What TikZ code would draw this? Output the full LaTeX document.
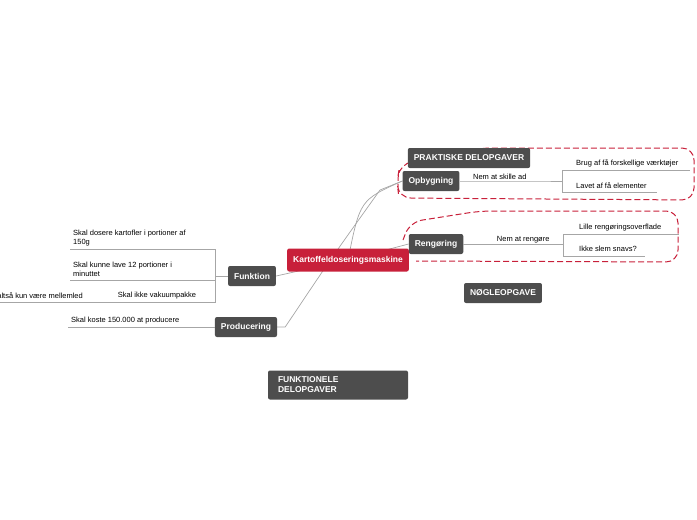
\documentclass[tikz,border=0pt]{standalone}
\usepackage{fontspec}
\setmainfont{Liberation Sans}
\definecolor{boxcolor}{HTML}{4d4d4d}
\definecolor{rootcolor}{HTML}{c8203a}
\definecolor{linecolor}{HTML}{a6a6a6}
\usetikzlibrary{positioning, backgrounds}

\begin{document}
\begin{tikzpicture}[x=1pt, y=-1pt,
    topic/.style={fill=boxcolor, text=white, font=\bfseries\fontsize{8.5}{10}\selectfont, rounded corners=2pt, inner xsep=6pt, minimum height=20pt},
    root/.style={topic, fill=rootcolor, minimum height=23pt},
    leaf/.style={font=\fontsize{7.5}{9}\selectfont, inner sep=1pt},
    branch/.style={draw=linecolor, line width=0.7pt},
    boundary/.style={draw=rootcolor, dash pattern=on 6pt off 3pt, line width=1pt, rounded corners=12pt}]
    \useasboundingbox (0, 0) rectangle (697, 520);
    \clip (0, 0) rectangle (697, 520);

    % boundaries
    \draw [boundary] (397, 182) -- (400, 164) -- (480, 148) -- (694, 148) -- (694, 200) -- (399, 198) -- cycle;
    \draw [boundary] (403, 240) -- (410, 222) -- (480, 211) -- (678, 211) -- (678, 262) -- (416, 261);

    % main topics
    \node [root] (kart) at (348, 260) {Kartoffeldoseringsmaskine};
    \node [topic] (opb) at (431, 181) {Opbygning};
    \node [topic] (prak) at (469, 158) {PRAKTISKE DELOPGAVER};
    \node [topic] (reng) at (436, 244) {Rengøring};
    \node [topic] (noegle) at (503, 293) {NØGLEOPGAVE};
    \node [topic] (funk) at (252, 276) {Funktion};
    \node [topic] (prod) at (246, 327) {Producering};
    \node [topic, align=left, minimum width=140pt, minimum height=29pt, text width=120pt] (funkdel) at (338, 385) {FUNKTIONELE\\DELOPGAVER};

    \begin{scope}[on background layer]
        \draw [branch] (kart.center) .. controls (360, 200) .. (opb.west);
        \draw [branch] (prod.east) -- ++(8, 0) .. controls (330, 260) .. (380, 190) -- (opb.west);
        \draw [branch] (kart.center) -- (reng.west);
        \draw [branch] (funk.east) -- (kart.center);
    \end{scope}

    % Opbygning
    \coordinate (o1) at (540, 181);
    \coordinate (o2) at (562, 181);
    \draw [branch] (opb.east) -- (o1) node [leaf, midway, above, black] {Nem at skille ad} -- (o2);
    \draw [branch] (690, 170) -- (562, 170) -- (562, 192) -- (657, 192);
    \node [leaf, anchor=south west] at (575, 168) {Brug af få forskellige værktøjer};
    \node [leaf, anchor=south west] at (575, 190) {Lavet af få elementer};

    % Rengøring
    \coordinate (r1) at (563, 244);
    \draw [branch] (reng.east) -- (r1) node [leaf, pos=0.6, above, black] {Nem at rengøre};
    \draw [branch] (679, 234) -- (563, 234) -- (563, 256) -- (645, 256);
    \node [leaf, anchor=south west] at (578, 232) {Lille rengøringsoverflade};
    \node [leaf, anchor=south west] at (578, 253) {Ikke slem snavs?};

    % Funktion
    \draw [branch] (funk.west) -- (215, 276);
    \draw [branch] (70, 249) -- (215, 249) -- (215, 302) -- (0, 302);
    \draw [branch] (70, 280) -- (215, 280);
    \node [leaf, anchor=south west, align=left] at (72, 247) {Skal dosere kartofler i portioner af\\150g};
    \node [leaf, anchor=south west, align=left] at (72, 278) {Skal kunne lave 12 portioner i\\minuttet};
    \node [leaf, anchor=south] at (157, 300) {Skal ikke vakuumpakke};
    \node [leaf, anchor=south east] at (84, 300) {Skal altså kun være mellemled};

    % Producering
    \draw [branch] (prod.west) -- (68, 327);
    \node [leaf, anchor=south west] at (70, 325) {Skal koste 150.000 at producere};
\end{tikzpicture}
\end{document}
